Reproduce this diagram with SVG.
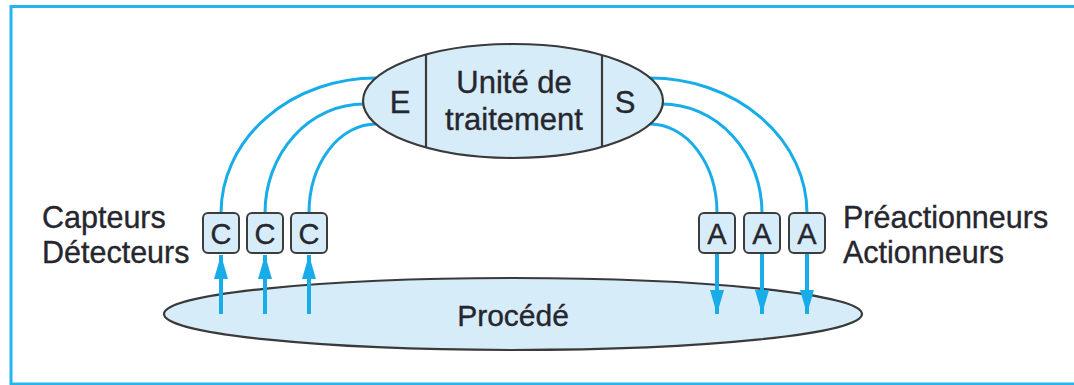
<svg xmlns="http://www.w3.org/2000/svg" width="1074" height="385" viewBox="0 0 1074 385">
  <style>
    .lbl { font-family: "Liberation Sans", Arial, sans-serif; fill: #26262e; stroke: #26262e; stroke-width: 0.35; }
    .big { font-size: 31px; }
    .box { fill: #d6ecf8; stroke: #3d3d3d; stroke-width: 2; }
    .oval { fill: #d6ecf8; stroke: #3a3a3a; stroke-width: 2.2; }
    .wire { fill: none; stroke: #18ade8; stroke-width: 3; }
    .feed { fill: none; stroke: #18ade8; stroke-width: 4; }
  </style>
  <defs>
    <marker id="head" viewBox="0 0 24 14" refX="24" refY="7" markerWidth="24" markerHeight="14" orient="auto" markerUnits="userSpaceOnUse">
      <path d="M0,0 L24,7 L0,14 Z" fill="#18ade8"/>
    </marker>
  </defs>

  <rect width="1074" height="385" fill="#ffffff"/>
  <!-- outer frame -->
  <rect x="11" y="6.5" width="1075" height="377.5" fill="none" stroke="#27b4ec" stroke-width="3"/>

  <!-- process -->
  <g id="procede">
    <ellipse class="oval" cx="513" cy="314" rx="349" ry="36"/>
    <text class="lbl" x="513" y="326" font-size="30" text-anchor="middle">Procédé</text>
  </g>

  <!-- connectors -->
  <g id="connectors">
    <!-- inputs: sensors to E -->
    <path class="wire" d="M376,78 A155,135 0 0 0 221,213"/>
    <path class="wire" d="M364,104 A99,109 0 0 0 265,213"/>
    <path class="wire" d="M376,124 A67,89 0 0 0 309,213"/>
    <!-- outputs: S to actuators -->
    <path class="wire" d="M650,78 A157,135 0 0 1 807,213"/>
    <path class="wire" d="M662,104 A100,109 0 0 1 762,213"/>
    <path class="wire" d="M650,124 A67,89 0 0 1 717,213"/>
    <!-- process feeds -->
    <line class="feed" x1="221" y1="314" x2="221" y2="255" marker-end="url(#head)"/>
    <line class="feed" x1="265" y1="314" x2="265" y2="255" marker-end="url(#head)"/>
    <line class="feed" x1="309" y1="314" x2="309" y2="255" marker-end="url(#head)"/>
    <line class="feed" x1="717" y1="254" x2="717" y2="314" marker-end="url(#head)"/>
    <line class="feed" x1="762" y1="254" x2="762" y2="314" marker-end="url(#head)"/>
    <line class="feed" x1="807" y1="254" x2="807" y2="314" marker-end="url(#head)"/>
  </g>

  <!-- processing unit -->
  <g id="unite">
    <ellipse class="oval" cx="513" cy="101" rx="150" ry="57"/>
    <line x1="426" y1="54" x2="426" y2="148" stroke="#3a3a3a" stroke-width="2.2"/>
    <line x1="602" y1="55" x2="602" y2="147" stroke="#3a3a3a" stroke-width="2.2"/>
    <text class="lbl big" x="400" y="113" text-anchor="middle">E</text>
    <text class="lbl big" x="625" y="113" text-anchor="middle">S</text>
    <text class="lbl big" x="514" y="93" text-anchor="middle">Unité de</text>
    <text class="lbl big" x="514" y="130" text-anchor="middle">traitement</text>
  </g>

  <!-- sensors -->
  <g id="capteurs">
    <rect class="box" x="203" y="213" width="36" height="40" rx="5"/>
    <rect class="box" x="247" y="213" width="36" height="40" rx="5"/>
    <rect class="box" x="291" y="213" width="36" height="40" rx="5"/>
    <text class="lbl" x="221" y="244" font-size="29" text-anchor="middle">C</text>
    <text class="lbl" x="265" y="244" font-size="29" text-anchor="middle">C</text>
    <text class="lbl" x="309" y="244" font-size="29" text-anchor="middle">C</text>
    <text class="lbl" x="42" y="228" font-size="30.5">Capteurs</text>
    <text class="lbl" x="42" y="263" font-size="30.5">Détecteurs</text>
  </g>

  <!-- actuators -->
  <g id="actionneurs">
    <rect class="box" x="699" y="213" width="36" height="40" rx="5"/>
    <rect class="box" x="744" y="213" width="36" height="40" rx="5"/>
    <rect class="box" x="789" y="213" width="36" height="40" rx="5"/>
    <text class="lbl" x="717" y="244" font-size="29" text-anchor="middle">A</text>
    <text class="lbl" x="762" y="244" font-size="29" text-anchor="middle">A</text>
    <text class="lbl" x="807" y="244" font-size="29" text-anchor="middle">A</text>
    <text class="lbl" x="843" y="228" font-size="30.5">Préactionneurs</text>
    <text class="lbl" x="843" y="263" font-size="30.5">Actionneurs</text>
  </g>
</svg>
